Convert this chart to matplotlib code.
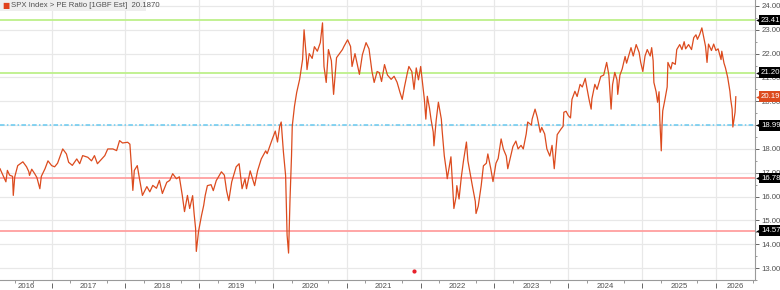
import matplotlib
matplotlib.use("Agg")
import matplotlib.pyplot as plt
from matplotlib.transforms import blended_transform_factory, offset_copy
import numpy as np

plt.rcParams['font.family'] = ['Liberation Sans Narrow', 'Liberation Sans', 'DejaVu Sans']

# SPX forward PE ratio (decimal year, value)
years = [
    2016.30, 2016.34, 2016.38, 2016.40, 2016.43, 2016.47, 2016.48, 2016.50, 2016.54, 2016.61,
    2016.66, 2016.69, 2016.70, 2016.73, 2016.77, 2016.80, 2016.84, 2016.86, 2016.91, 2016.95,
    2017.00, 2017.04, 2017.08, 2017.15, 2017.20, 2017.23, 2017.28, 2017.34, 2017.38, 2017.42,
    2017.49, 2017.54, 2017.58, 2017.62, 2017.68, 2017.72, 2017.76, 2017.83, 2017.88, 2017.92,
    2017.96, 2018.03, 2018.06, 2018.08, 2018.10, 2018.12, 2018.16, 2018.19, 2018.23, 2018.29,
    2018.33, 2018.37, 2018.42, 2018.46, 2018.50, 2018.56, 2018.60, 2018.64, 2018.69, 2018.73,
    2018.77, 2018.80, 2018.84, 2018.87, 2018.91, 2018.93, 2018.95, 2018.96, 2018.99, 2019.03,
    2019.06, 2019.08, 2019.11, 2019.16, 2019.19, 2019.23, 2019.30, 2019.34, 2019.37, 2019.40,
    2019.44, 2019.50, 2019.54, 2019.58, 2019.62, 2019.64, 2019.69, 2019.75, 2019.79, 2019.84,
    2019.90, 2019.92, 2019.98, 2020.03, 2020.06, 2020.09, 2020.11, 2020.14, 2020.17, 2020.18,
    2020.19, 2020.21, 2020.23, 2020.25, 2020.26, 2020.29, 2020.32, 2020.36, 2020.38, 2020.40,
    2020.42, 2020.45, 2020.46, 2020.49, 2020.53, 2020.56, 2020.60, 2020.64, 2020.67, 2020.69,
    2020.72, 2020.75, 2020.79, 2020.82, 2020.86, 2020.90, 2020.94, 2020.96, 2021.01, 2021.05,
    2021.07, 2021.11, 2021.17, 2021.21, 2021.26, 2021.30, 2021.34, 2021.37, 2021.41, 2021.44,
    2021.47, 2021.51, 2021.55, 2021.60, 2021.64, 2021.68, 2021.72, 2021.75, 2021.78, 2021.82,
    2021.84, 2021.88, 2021.91, 2021.94, 2021.97, 2022.00, 2022.02, 2022.05, 2022.07, 2022.09,
    2022.12, 2022.14, 2022.17, 2022.18, 2022.21, 2022.24, 2022.28, 2022.29, 2022.32, 2022.35,
    2022.36, 2022.39, 2022.41, 2022.43, 2022.45, 2022.48, 2022.49, 2022.52, 2022.55, 2022.58,
    2022.62, 2022.64, 2022.68, 2022.70, 2022.74, 2022.75, 2022.78, 2022.82, 2022.85, 2022.89,
    2022.91, 2022.95, 2022.98, 2023.02, 2023.05, 2023.09, 2023.12, 2023.16, 2023.18, 2023.22,
    2023.25, 2023.29, 2023.32, 2023.36, 2023.39, 2023.43, 2023.45, 2023.50, 2023.51, 2023.55,
    2023.58, 2023.62, 2023.64, 2023.68, 2023.71, 2023.75, 2023.78, 2023.81, 2023.83, 2023.85,
    2023.90, 2023.93, 2023.94, 2023.97, 2024.00, 2024.03, 2024.05, 2024.09, 2024.12, 2024.16,
    2024.19, 2024.23, 2024.25, 2024.28, 2024.31, 2024.32, 2024.36, 2024.39, 2024.44, 2024.48,
    2024.52, 2024.55, 2024.58, 2024.60, 2024.63, 2024.66, 2024.67, 2024.70, 2024.73, 2024.77,
    2024.79, 2024.85, 2024.88, 2024.92, 2024.96, 2024.98, 2025.01, 2025.04, 2025.07, 2025.11,
    2025.13, 2025.15, 2025.16, 2025.19, 2025.21, 2025.23, 2025.24, 2025.26, 2025.27, 2025.28,
    2025.31, 2025.34, 2025.35, 2025.39, 2025.41, 2025.45, 2025.47, 2025.51, 2025.54, 2025.57,
    2025.59, 2025.63, 2025.67, 2025.70, 2025.73, 2025.75, 2025.78, 2025.81, 2025.84, 2025.86,
    2025.88, 2025.90, 2025.94, 2025.97, 2026.00, 2026.03, 2026.07, 2026.08, 2026.11, 2026.13,
    2026.16, 2026.19, 2026.20, 2026.22, 2026.23, 2026.26, 2026.27,
]
pe = [
    17.17, 16.89, 16.62, 17.10, 16.90, 16.85, 16.05, 16.83, 17.30, 17.46,
    17.25, 17.05, 16.89, 17.15, 16.96, 16.80, 16.33, 16.85, 17.17, 17.50,
    17.30, 17.25, 17.40, 18.00, 17.79, 17.44, 17.31, 17.58, 17.38, 17.72,
    17.65, 17.50, 17.72, 17.38, 17.58, 17.72, 18.00, 18.00, 17.93, 18.35,
    18.25, 18.28, 18.20, 17.30, 16.26, 17.10, 17.30, 16.75, 16.05, 16.42,
    16.20, 16.47, 16.35, 16.68, 16.13, 16.60, 16.68, 16.96, 16.75, 16.83,
    16.05, 15.37, 16.05, 15.50, 16.04, 15.29, 14.67, 13.70, 14.54, 15.20,
    15.63, 16.04, 16.46, 16.50, 16.25, 16.67, 17.04, 16.90, 16.25, 15.83,
    16.62, 17.25, 17.38, 16.33, 16.75, 16.33, 17.08, 16.46, 17.08, 17.58,
    17.92, 17.80, 18.33, 18.75, 18.29, 18.96, 19.13, 17.88, 16.88, 15.63,
    14.38, 13.63, 15.92, 17.71, 18.96, 19.79, 20.37, 20.92, 21.33, 21.75,
    23.00, 21.88, 21.33, 22.00, 21.80, 22.29, 22.10, 22.46, 23.29, 21.46,
    20.79, 22.17, 21.70, 20.29, 21.83, 22.00, 22.17, 22.30, 22.58, 22.30,
    21.46, 22.00, 21.13, 21.95, 22.46, 22.20, 21.25, 20.79, 21.25, 21.20,
    20.83, 21.54, 21.10, 20.92, 21.05, 20.80, 20.37, 20.08, 20.60, 21.20,
    21.46, 21.25, 20.50, 21.40, 20.90, 21.46, 20.92, 20.08, 19.25, 20.21,
    19.70, 19.25, 18.71, 18.13, 19.20, 19.96, 19.25, 18.80, 17.71, 17.04,
    16.75, 17.30, 17.67, 16.60, 15.50, 16.00, 16.46, 15.90, 16.80, 17.50,
    18.29, 17.50, 16.80, 16.46, 15.80, 15.29, 15.60, 16.46, 17.29, 17.40,
    17.79, 17.17, 16.63, 17.40, 17.60, 18.42, 18.00, 17.70, 17.17, 17.70,
    18.10, 18.33, 18.00, 18.15, 18.00, 18.63, 19.13, 19.00, 19.25, 19.67,
    19.33, 18.70, 18.90, 18.63, 18.00, 17.70, 18.15, 17.17, 17.90, 18.60,
    18.83, 18.95, 19.54, 19.58, 19.40, 19.30, 20.08, 20.42, 20.20, 20.71,
    20.60, 20.96, 20.60, 20.10, 19.67, 20.10, 20.71, 20.50, 21.04, 21.10,
    21.63, 21.10, 19.67, 20.70, 21.21, 20.90, 20.29, 21.10, 21.35, 21.88,
    21.60, 22.25, 21.90, 22.38, 22.05, 21.65, 21.25, 21.90, 22.17, 21.90,
    22.25, 21.70, 20.79, 20.40, 19.96, 20.40, 19.25, 17.92, 19.00, 19.60,
    20.08, 20.60, 21.63, 21.35, 21.63, 21.55, 22.17, 22.38, 22.17, 22.50,
    22.20, 22.38, 22.17, 22.67, 22.79, 22.60, 22.80, 23.08, 22.60, 22.30,
    21.63, 22.40, 22.13, 22.40, 22.13, 22.20, 21.75, 22.10, 21.60, 21.40,
    21.00, 20.42, 20.10, 19.67, 18.92, 19.54, 20.19,
]

last_value = 20.1870
legend_label = "SPX Index > PE Ratio [1GBF Est]"

# reference levels (mean +/- 1 and 2 std)
levels = [23.41, 21.20, 18.99, 16.78, 14.57]
level_colors = ['#bdf08a', '#bdf08a', '#66c9f0', '#ff9f9f', '#ff9f9f']

# event marker near the bottom
event_year = [2021.91]
event_val = [12.88]

year_ticks = list(range(2017, 2027))
year_labels = [str(y) for y in range(2016, 2027)]

line_color = '#dc4b1e'
text_grey = '#505050'

fig = plt.figure(figsize=(7.8, 2.9), dpi=100)
ax = fig.add_axes([0, 10 / 290, 755 / 780, 280 / 290])

x0, x1 = 2016.30, 2026.53
ax.set_xlim(x0, x1)
ax.set_ylim(12.58, 24.25)

# grid
ax.set_yticks(np.arange(13, 25))
ax.set_yticks(np.arange(12.5, 24.5, 1.0), minor=True)
ax.set_xticks(year_ticks)
ax.set_xticklabels([])
ax.grid(True, which='major', color='#e8e8e8', lw=0.9, zorder=0)

# spines
for s in ['top', 'left']:
    ax.spines[s].set_visible(False)
for s in ['right', 'bottom']:
    ax.spines[s].set_color('#9a9a9a')
    ax.spines[s].set_linewidth(0.8)

ax.yaxis.tick_right()
ax.yaxis.set_major_formatter(matplotlib.ticker.FormatStrFormatter('%.2f'))
ax.tick_params(axis='y', which='major', length=3, width=0.7, color='#666666',
               labelsize=5.6, labelcolor=text_grey, pad=1.5)
ax.tick_params(axis='y', which='minor', length=1.5, width=0.6, color='#888888')
ax.tick_params(axis='x', which='major', length=0)

# level lines
for lv, c in zip(levels, level_colors):
    if c == '#66c9f0':
        ax.axhline(lv, color=c, lw=1.1, ls=(0, (3, 1.5, 1, 1.5)), zorder=2)
    else:
        ax.axhline(lv, color=c, lw=1.3, zorder=2)

ax.plot(years, pe, color=line_color, lw=0.9, zorder=3)
ax.scatter(event_year, event_val, s=4, color='#e8202a', zorder=4, clip_on=False)

# x axis: quarter ticks, year separators and centred year labels
bottom = blended_transform_factory(ax.transData, ax.transAxes)
edges = [x0] + year_ticks + [x1]
label_pos = [(a + b) / 2 for a, b in zip(edges[:-1], edges[1:])]
quarters = [y + q for y in range(2016, 2027) for q in (0.25, 0.5, 0.75)]
quarters = [q for q in quarters if x0 < q < x1 and min(abs(q - p) for p in label_pos) > 0.08]
ax.set_xticks(quarters, minor=True)
ax.tick_params(axis='x', which='minor', length=2, width=0.6, color='#888888')
ax.vlines(year_ticks, -0.011, -0.03, transform=bottom, color='#666666', lw=0.7, clip_on=False)
for p, lab in zip(label_pos, year_labels):
    ax.text(p, -0.022, lab, transform=bottom, ha='center', va='center',
            fontsize=5.6, color=text_grey)

# right-hand value flags
right = blended_transform_factory(ax.transAxes, ax.transData)
flag_vals = levels + [last_value]
flag_cols = ['black'] * len(levels) + [line_color]
for v, c in zip(flag_vals, flag_cols):
    ax.plot([1.0], [v], marker='<', ms=3.4, color=c, mec='none', clip_on=False,
            transform=offset_copy(right, fig=fig, x=3, y=0, units='dots'), zorder=6)
    ax.annotate(f'{v:.2f}', xy=(1.0, v), xycoords=right, xytext=(6, 0),
                textcoords='offset pixels', ha='left', va='center', fontsize=5.6,
                color='white', annotation_clip=False, zorder=7,
                bbox=dict(boxstyle='square,pad=0.25', fc=c, ec='none'))

# legend box
fig.patches.append(plt.Rectangle((0, 279 / 290), 146 / 780, 11 / 290, transform=fig.transFigure,
                                 fc='#eeeeee', ec='none', zorder=5))
fig.text(2 / 780, 284.5 / 290, '\u25a0', color='#e0401a', fontsize=5.5, va='center', ha='left',
         family=['DejaVu Sans'], zorder=6)
fig.text(11 / 780, 284.5 / 290, f'{legend_label}  {last_value:.4f}', color=text_grey,
         fontsize=5.6, va='center', ha='left', zorder=6)

fig.savefig('out.png', dpi=100, facecolor='white')
